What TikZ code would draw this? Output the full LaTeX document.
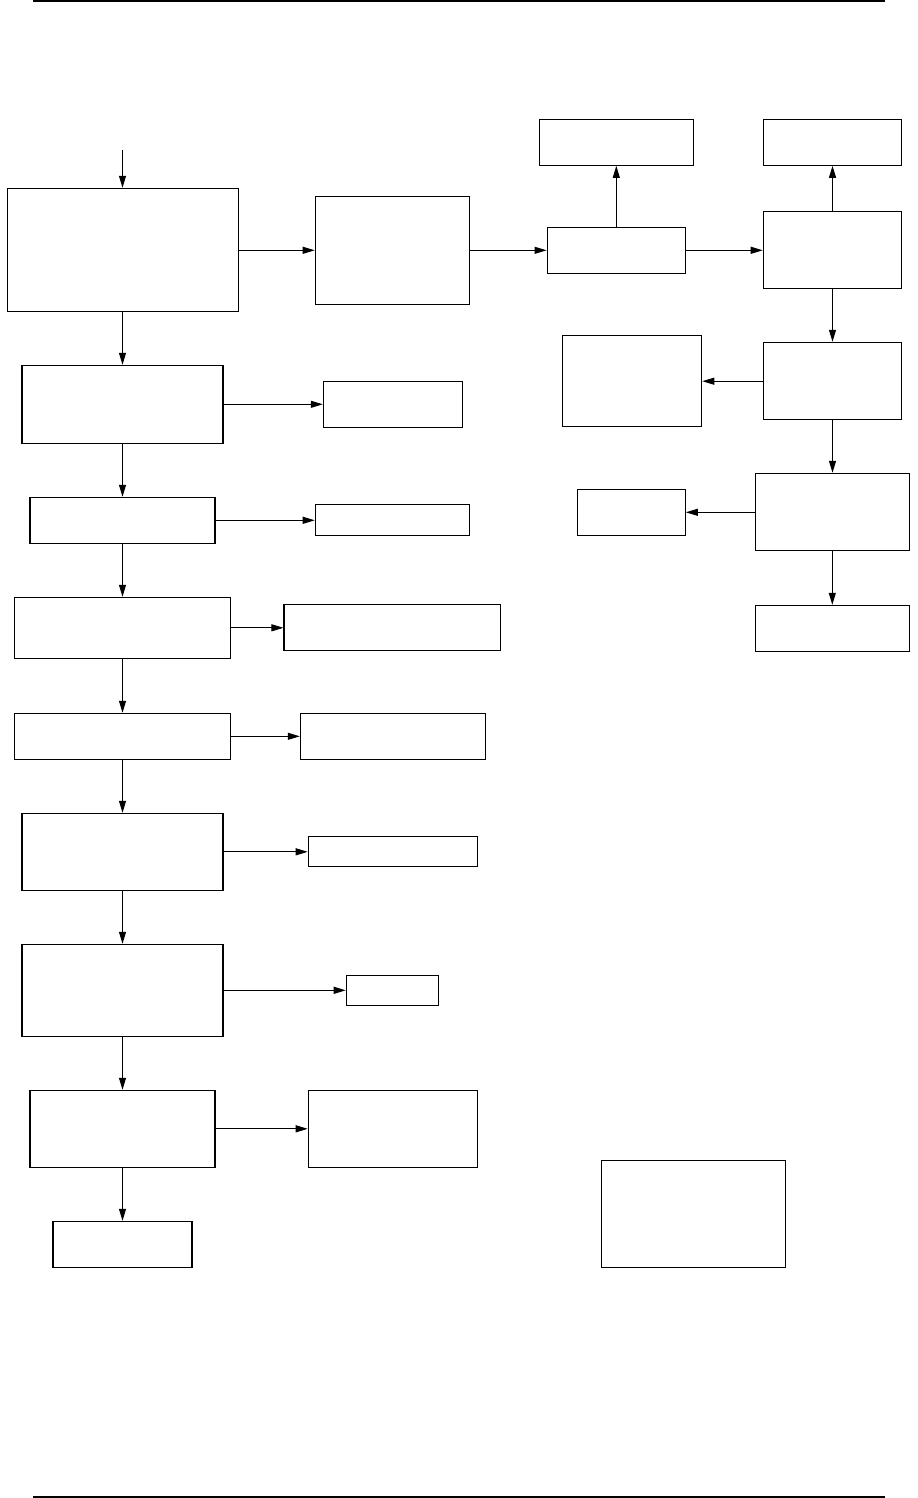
\documentclass[tikz,border=0pt]{standalone}
\usetikzlibrary{arrows.meta}

\tikzset{
  blk/.style 2 args={draw,line width=0.6pt,inner sep=0pt,minimum width=#1cm,minimum height=#2cm},
  flow/.style={line width=0.6pt,-{Triangle[length=2.4mm,width=1.4mm]}}
}

\begin{document}
\begin{tikzpicture}[x=0.02cm,y=-0.02cm]
\useasboundingbox (0,0) rectangle (917,1498);
\draw[line width=0.6pt] (33,1) -- (885,1);
\draw[line width=0.6pt] (33,1497) -- (885,1497);

% left column
\coordinate (start) at (122.5,150);
\node[blk={4.63}{2.46}] (main) at (123,249.8) {};
\node[blk={4.02}{1.56}] (sigA) at (122.5,404.3) {};
\node[blk={3.70}{0.92}] (sigB) at (122.5,520.3) {};
\node[blk={4.32}{1.22}] (sigC) at (122.5,627.8) {};
\node[blk={4.32}{0.92}] (sigD) at (122.5,736.3) {};
\node[blk={4.02}{1.54}] (sigE) at (122.5,851.8) {};
\node[blk={4.02}{1.84}] (sigF) at (122.5,990.3) {};
\node[blk={3.70}{1.54}] (sigG) at (122.5,1128.8) {};
\node[blk={2.78}{0.92}] (sigH) at (122.5,1244.3) {};

% outputs of the left column
\node[blk={3.09}{2.16}] (proc) at (392.5,250.3) {};
\node[blk={2.78}{0.92}] (outA) at (392.8,404.3) {};
\node[blk={3.09}{0.62}] (outB) at (392.5,520.3) {};
\node[blk={4.33}{0.92}] (outC) at (392.2,627.8) {};
\node[blk={3.70}{0.92}] (outD) at (392.8,736.3) {};
\node[blk={3.39}{0.60}] (outE) at (393,851.8) {};
\node[blk={1.85}{0.60}] (outF) at (392.5,990.3) {};
\node[blk={3.39}{1.54}] (outG) at (393,1128.8) {};

% right part
\node[blk={2.77}{0.92}] (stepI) at (616.3,250.3) {};
\node[blk={3.08}{0.92}] (topI) at (616.3,142.3) {};
\node[blk={2.77}{1.54}] (stepJ) at (832.5,249.8) {};
\node[blk={2.77}{0.92}] (topJ) at (832.5,142.3) {};
\node[blk={2.77}{1.54}] (stepK) at (832.5,380.8) {};
\node[blk={2.79}{1.83}] (sideK) at (632,381.2) {};
\node[blk={3.08}{1.54}] (stepM) at (832.3,511.8) {};
\node[blk={2.16}{0.92}] (sideM) at (631.3,512.3) {};
\node[blk={3.08}{0.92}] (stepO) at (832.3,628.3) {};
\node[blk={3.68}{2.14}] (extra) at (693.3,1213.8) {};

\draw[flow] (start) -- (start |- main.north);
\draw[flow] (start |- main.south) -- (sigA);
\draw[flow] (sigA) -- (sigB);
\draw[flow] (sigB) -- (sigC);
\draw[flow] (sigC) -- (sigD);
\draw[flow] (sigD) -- (sigE);
\draw[flow] (sigE) -- (sigF);
\draw[flow] (sigF) -- (sigG);
\draw[flow] (sigG) -- (sigH);

\draw[flow] (main.east |- proc) -- (proc);
\draw[flow] (sigA) -- (outA);
\draw[flow] (sigB) -- (outB);
\draw[flow] (sigC) -- (outC);
\draw[flow] (sigD) -- (outD);
\draw[flow] (sigE) -- (outE);
\draw[flow] (sigF) -- (outF);
\draw[flow] (sigG) -- (outG);

\draw[flow] (proc) -- (stepI);
\draw[flow] (stepI) -- (topI);
\draw[flow] (stepI) -- (stepI -| stepJ.west);
\draw[flow] (stepJ) -- (topJ);
\draw[flow] (stepJ) -- (stepK);
\draw[flow] (stepK.west |- sideK) -- (sideK);
\draw[flow] (stepK) -- (stepK |- stepM.north);
\draw[flow] (stepM.west |- sideM) -- (sideM);
\draw[flow] (stepM) -- (stepO);

\end{tikzpicture}
\end{document}
